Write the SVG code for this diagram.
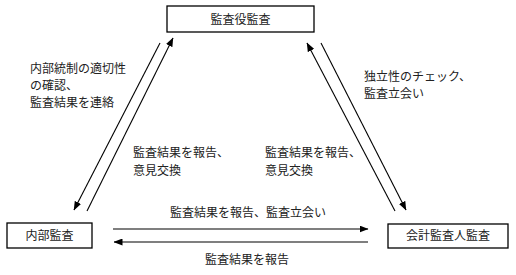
<svg xmlns="http://www.w3.org/2000/svg" width="516" height="275" viewBox="0 0 516 275">
<style>
.box{fill:#fff;stroke:#000;stroke-width:1.3}
.t{font-family:"Noto Sans CJK JP","Noto Sans",sans-serif;font-size:12px;fill:#222}
.c{text-anchor:middle}
.ln{stroke:#000;stroke-width:1.1;fill:none}
</style>
<defs>
<marker id="ah" markerUnits="userSpaceOnUse" markerWidth="9" markerHeight="7" refX="8.5" refY="3.5" orient="auto">
<path d="M0,0 L9,3.5 L0,7 z" fill="#000"/>
</marker>
</defs>
<rect width="516" height="275" fill="#fff"/>
<g id="connectors">
<line class="ln" x1="160" y1="43" x2="74" y2="210" marker-end="url(#ah)"/>
<line class="ln" x1="87" y1="211" x2="173" y2="38" marker-end="url(#ah)"/>
<line class="ln" x1="395" y1="211" x2="307" y2="43" marker-end="url(#ah)"/>
<line class="ln" x1="321" y1="43" x2="406" y2="210" marker-end="url(#ah)"/>
<line class="ln" x1="113" y1="229" x2="368" y2="229" marker-end="url(#ah)"/>
<line class="ln" x1="368" y1="242" x2="114" y2="242" marker-end="url(#ah)"/>
</g>
<g id="labels">
<text class="t" x="30" y="73">内部統制の適切性</text>
<text class="t" x="30" y="90">の確認、</text>
<text class="t" x="30" y="107">監査結果を連絡</text>
<text class="t" x="364" y="81">独立性のチェック、</text>
<text class="t" x="364" y="98">監査立会い</text>
<text class="t" x="133" y="157">監査結果を報告、</text>
<text class="t" x="133" y="175">意見交換</text>
<text class="t" x="265" y="157">監査結果を報告、</text>
<text class="t" x="265" y="175">意見交換</text>
<text class="t c" x="248" y="217">監査結果を報告、監査立会い</text>
<text class="t c" x="247" y="264">監査結果を報告</text>
</g>
<g id="node-kansayaku">
<rect class="box" x="167" y="6" width="147" height="26"/>
<text class="t c" x="240.5" y="24">監査役監査</text>
</g>
<g id="node-naibu">
<rect class="box" x="7" y="223" width="85" height="25"/>
<text class="t c" x="49.5" y="240">内部監査</text>
</g>
<g id="node-kaikei">
<rect class="box" x="388" y="224" width="120" height="24"/>
<text class="t c" x="448" y="240">会計監査人監査</text>
</g>
</svg>
